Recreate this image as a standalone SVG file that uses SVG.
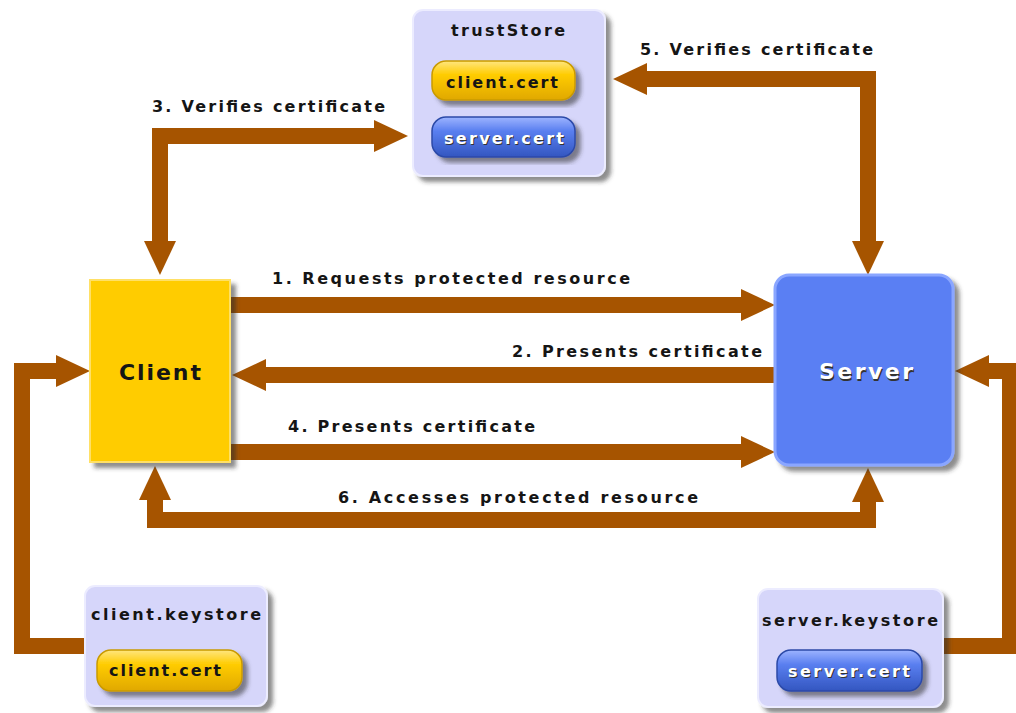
<svg xmlns="http://www.w3.org/2000/svg" width="1016" height="713" viewBox="0 0 1016 713">
<style>
.lbl{font-family:"DejaVu Sans","Liberation Sans",Arial,sans-serif;font-size:16px;font-weight:bold;fill:#151515}
.ttl{font-family:"DejaVu Sans","Liberation Sans",Arial,sans-serif;font-size:16px;font-weight:bold;fill:#151515;text-anchor:middle}
.big{font-family:"DejaVu Sans","Liberation Sans",Arial,sans-serif;font-size:22px;font-weight:bold;text-anchor:middle}
.pilltxt{font-family:"DejaVu Sans","Liberation Sans",Arial,sans-serif;font-size:16px;font-weight:bold;text-anchor:middle}
.store{fill:#d6d6fa;stroke:#ececff;stroke-width:2}
.conn{fill:none;stroke:#a65400;stroke-width:16;stroke-linejoin:miter;stroke-linecap:butt}
</style>
<defs>
<filter id="sh" x="-10%" y="-10%" width="130%" height="130%">
<feDropShadow dx="5" dy="5" stdDeviation="2" flood-color="#333" flood-opacity="0.55"/>
</filter>
<linearGradient id="gy" x1="0" y1="0" x2="0" y2="1">
<stop offset="0" stop-color="#ffe680"/><stop offset="0.35" stop-color="#ffcc00"/><stop offset="1" stop-color="#e0a800"/>
</linearGradient>
<linearGradient id="gb" x1="0" y1="0" x2="0" y2="1">
<stop offset="0" stop-color="#9db4ff"/><stop offset="0.35" stop-color="#5a7ff0"/><stop offset="1" stop-color="#3356c0"/>
</linearGradient>
<marker id="ah" markerUnits="userSpaceOnUse" markerWidth="36" markerHeight="34" refX="1" refY="16" orient="auto-start-reverse">
<path d="M0,0 L34,16 L0,32 z" fill="#a65400"/>
</marker>
</defs>
<rect width="1016" height="713" fill="#ffffff"/>

<g id="connectors">
<path class="conn" d="M230,305 L742,305" marker-end="url(#ah)"/>
<path class="conn" d="M775,375 L265,375" marker-end="url(#ah)"/>
<path class="conn" d="M230,452 L742,452" marker-end="url(#ah)"/>
<path class="conn" d="M160,242 L160,136 L375,136" marker-start="url(#ah)" marker-end="url(#ah)"/>
<path class="conn" d="M646,79 L868,79 L868,242" marker-start="url(#ah)" marker-end="url(#ah)"/>
<path class="conn" d="M155,499 L155,520 L868,520 L868,501" marker-start="url(#ah)" marker-end="url(#ah)"/>
<path class="conn" d="M86,646 L22,646 L22,371 L57,371" marker-end="url(#ah)"/>
<path class="conn" d="M942,646 L1010,646 L1010,371 L988,371" marker-end="url(#ah)"/>
<text class="lbl" x="152" y="112" textLength="233" lengthAdjust="spacing">3. Verifies certificate</text>
<text class="lbl" x="640" y="55" textLength="233" lengthAdjust="spacing">5. Verifies certificate</text>
<text class="lbl" x="272" y="284" textLength="358" lengthAdjust="spacing">1. Requests protected resource</text>
<text class="lbl" x="512" y="357" textLength="250" lengthAdjust="spacing">2. Presents certificate</text>
<text class="lbl" x="288" y="432" textLength="247" lengthAdjust="spacing">4. Presents certificate</text>
<text class="lbl" x="338" y="503" textLength="360" lengthAdjust="spacing">6. Accesses protected resource</text>
</g>

<g id="trustStore">
<rect class="store" x="413" y="10" width="192" height="166" rx="10" filter="url(#sh)"/>
<text class="ttl" x="508" y="36" textLength="114" lengthAdjust="spacing">trustStore</text>
<rect x="432" y="61" width="143" height="39" rx="14" fill="url(#gy)" stroke="#c99a00" stroke-width="1.5" filter="url(#sh)"/>
<text class="pilltxt" x="502" y="88" fill="#151515" textLength="112" lengthAdjust="spacing">client.cert</text>
<rect x="432" y="117" width="143" height="40" rx="14" fill="url(#gb)" stroke="#2c4aa8" stroke-width="1.5" filter="url(#sh)"/>
<text class="pilltxt" x="504" y="144" fill="#333" textLength="120" lengthAdjust="spacing" transform="translate(1,1)">server.cert</text>
<text class="pilltxt" x="504" y="144" fill="#ffffff" textLength="120" lengthAdjust="spacing">server.cert</text>
</g>

<g id="client">
<rect x="90" y="280" width="140" height="182" fill="#ffcc00" stroke="#ffe066" stroke-width="2" filter="url(#sh)"/>
<text class="big" x="160" y="380" fill="#151515" textLength="82" lengthAdjust="spacing">Client</text>
</g>

<g id="server">
<rect x="775" y="275" width="178" height="190" rx="14" fill="#5a7ff3" stroke="#8aa6ff" stroke-width="3" filter="url(#sh)"/>
<text class="big" x="866" y="379" fill="#333" textLength="94" lengthAdjust="spacing" transform="translate(1,1.5)">Server</text>
<text class="big" x="866" y="379" fill="#ffffff" textLength="94" lengthAdjust="spacing">Server</text>
</g>

<g id="clientKeystore">
<rect class="store" x="85" y="586" width="182" height="120" rx="10" filter="url(#sh)"/>
<text class="ttl" x="176" y="620" textLength="170" lengthAdjust="spacing">client.keystore</text>
<rect x="97" y="650" width="145" height="41" rx="14" fill="url(#gy)" stroke="#c99a00" stroke-width="1.5" filter="url(#sh)"/>
<text class="pilltxt" x="165" y="676" fill="#151515" textLength="112" lengthAdjust="spacing">client.cert</text>
</g>

<g id="serverKeystore">
<rect class="store" x="758" y="589" width="185" height="118" rx="10" filter="url(#sh)"/>
<text class="ttl" x="850" y="626" textLength="176" lengthAdjust="spacing">server.keystore</text>
<rect x="777" y="650" width="145" height="41" rx="14" fill="url(#gb)" stroke="#2c4aa8" stroke-width="1.5" filter="url(#sh)"/>
<text class="pilltxt" x="849" y="677" fill="#333" textLength="122" lengthAdjust="spacing" transform="translate(1,1)">server.cert</text>
<text class="pilltxt" x="849" y="677" fill="#ffffff" textLength="122" lengthAdjust="spacing">server.cert</text>
</g>
</svg>
